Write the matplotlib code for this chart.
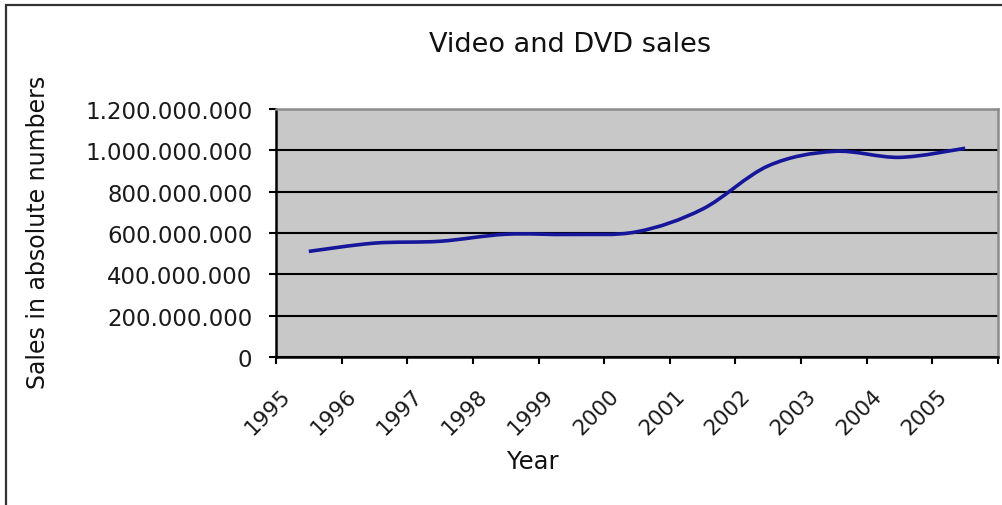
import numpy as np
import matplotlib.pyplot as plt
import matplotlib.patches as mpatches
import matplotlib.transforms as mtransforms
from matplotlib.path import Path

# ---- data ----
years = ["1995", "1996", "1997", "1998", "1999", "2000",
         "2001", "2002", "2003", "2004", "2005"]
sales = [511e6, 551e6, 560e6, 594e6, 593e6, 606e6,
         716e6, 925e6, 995e6, 966e6, 1010e6]
y_ticks = [0, 200e6, 400e6, 600e6, 800e6, 1000e6, 1200e6]

# ---- figure ----
fig = plt.figure(figsize=(10.03, 5.06), dpi=100)
ax = fig.add_axes([276 / 1003, 148 / 506, 722 / 1003, 248 / 506])
ax.set_facecolor("#c8c8c8")

# outer chart border (runs off the right/bottom edge like the screenshot)
fig.patches.append(mpatches.Rectangle((6 / 1003, -0.1), 1.2, 1.1 - 6 / 506,
                                      transform=fig.transFigure, fill=False,
                                      edgecolor="#333333", linewidth=1.6))

# smoothed line (excel style bezier through the points)
x = np.arange(len(years), dtype=float)
y = np.array(sales)
px = np.concatenate([[x[0]], x, [x[-1]]])
py = np.concatenate([[y[0]], y, [y[-1]]])
verts = [(x[0], y[0])]
codes = [Path.MOVETO]
for i in range(1, len(px) - 2):
    c1 = (px[i] + (px[i + 1] - px[i - 1]) / 6, py[i] + (py[i + 1] - py[i - 1]) / 6)
    c2 = (px[i + 1] - (px[i + 2] - px[i]) / 6, py[i + 1] - (py[i + 2] - py[i]) / 6)
    verts += [c1, c2, (px[i + 1], py[i + 1])]
    codes += [Path.CURVE4] * 3
ax.add_patch(mpatches.PathPatch(Path(verts, codes), fill=False,
                                edgecolor="#16169a", linewidth=2.6, zorder=3))

ax.set_xlim(-0.5, len(years) - 0.5)
ax.set_ylim(0, 1.2e9)

# y axis
ax.set_yticks(y_ticks)
ax.set_yticklabels([f"{v:,.0f}".replace(",", ".") for v in y_ticks],
                   fontsize=16.5, color="#1a1a1a")
ax.yaxis.grid(True, color="black", linewidth=1.5)
ax.set_axisbelow(True)

# x axis: ticks on category borders, labels in the middle
ax.set_xticks(np.arange(-0.5, len(years)))
ax.set_xticklabels([])
ax.set_xticks(x, minor=True)
ax.set_xticklabels(years, minor=True, rotation=45, ha="right", va="top",
                   fontsize=15.5, color="#1a1a1a")
ax.tick_params(axis="both", which="major", direction="out", length=5,
               width=1.5, color="black")
ax.tick_params(axis="y", pad=12)
ax.tick_params(axis="x", which="minor", length=0, pad=20)

offset = mtransforms.ScaledTranslation(-14 / 100, 0, fig.dpi_scale_trans)
for lbl in ax.get_xticklabels(minor=True):
    lbl.set_transform(lbl.get_transform() + offset)

for side in ["left", "bottom"]:
    ax.spines[side].set_color("black")
    ax.spines[side].set_linewidth(1.8)
for side in ["top", "right"]:
    ax.spines[side].set_color("#8c8c8c")
    ax.spines[side].set_linewidth(1.8)

# titles
fig.text(570 / 1003, 1 - 45 / 506, "Video and DVD sales", fontsize=19.5,
         ha="center", va="center", color="#111111")
fig.text(38 / 1003, 1 - 232 / 506, "Sales in absolute numbers", fontsize=17,
         rotation=90, ha="center", va="center", color="#111111")
fig.text(533 / 1003, 1 - 462 / 506, "Year", fontsize=17.5,
         ha="center", va="center", color="#111111")

plt.savefig("out.png", dpi=100)
